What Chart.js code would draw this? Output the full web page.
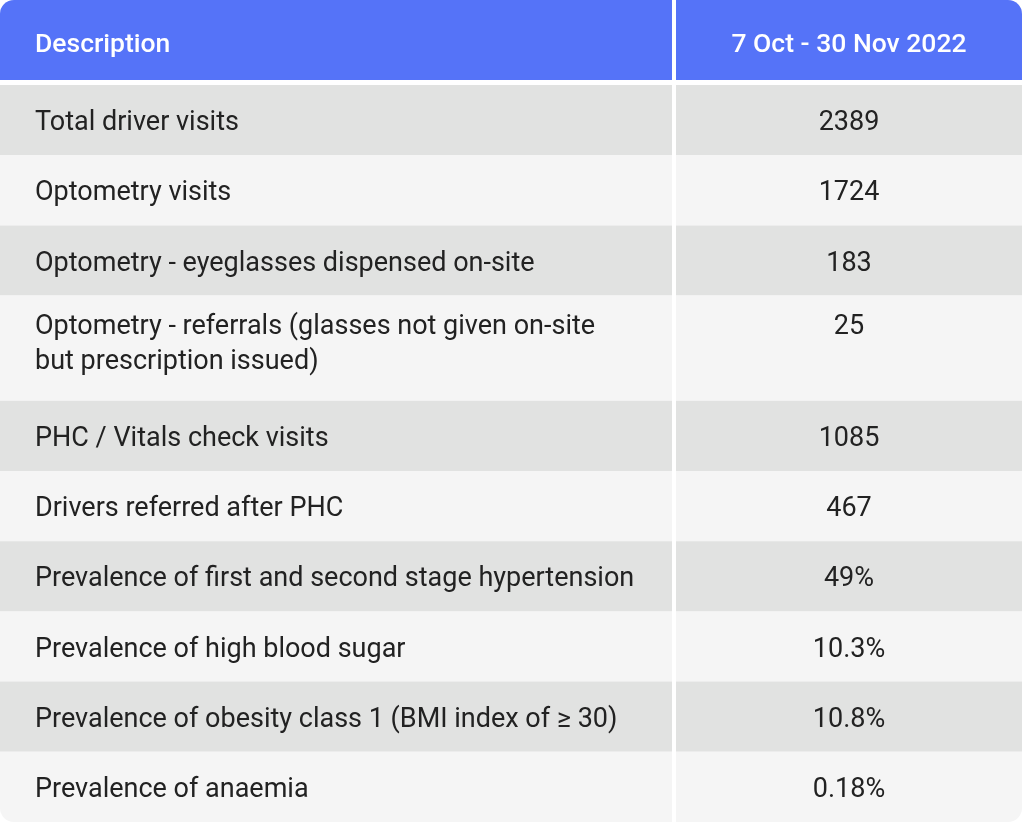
<!DOCTYPE html>
<html>
<head>
<meta charset="utf-8">
<script src="https://cdn.jsdelivr.net/npm/chart.js@4/dist/chart.umd.min.js"></script>
<style>
  html, body { margin: 0; padding: 0; background: #ffffff; }
  #tableChart { display: block; }
</style>
</head>
<body>
<canvas id="tableChart" width="1024" height="826"></canvas>
<script>
// Table data
const headers = ['Description', '7 Oct - 30 Nov 2022'];
const descriptions = [
    ['Total driver visits'],
    ['Optometry visits'],
    ['Optometry - eyeglasses dispensed on-site'],
    ['Optometry - referrals (glasses not given on-site', 'but prescription issued)'],
    ['PHC / Vitals check visits'],
    ['Drivers referred after PHC'],
    ['Prevalence of first and second stage hypertension'],
    ['Prevalence of high blood sugar'],
    ['Prevalence of obesity class 1 (BMI index of \u2265 30)'],
    ['Prevalence of anaemia']
];
const values = ['2389', '1724', '183', '25', '1085', '467', '49%', '10.3%', '10.8%', '0.18%'];

// Look and layout
const headerColor = '#5573f8';
const rowColors = ['#e1e2e1', '#f5f5f5'];
const textColor = '#222222';
const fontFamily = 'Roboto, "Noto Sans", sans-serif';
const fontSize = 27;
const headerFontSize = 26.5;

const headerHeight = 80;
const headerGap = 5;
const lineHeight = 35;
const rowPadding = 17.6;
const columnEdges = [[0, 672], [676, 1022]];
const textIndent = 35;
const cornerRadius = 14;

// build row bounds (in y scale units) from the number of text lines
const getRowBounds = function (rows) {
    let bounds = [];
    let top = headerHeight + headerGap;
    for (var i = 0; i < rows.length; i++) {
        let h = rowPadding * 2 + rows[i].length * lineHeight;
        bounds.push({top: top, bottom: top + h, lines: rows[i].length});
        top += h;
    }
    return bounds
};

const rowBounds = getRowBounds(descriptions);

function roundedCell(ctx, x0, y0, x1, y1, radii) {
    ctx.beginPath();
    ctx.roundRect(x0, y0, x1 - x0, y1 - y0, radii);
    ctx.fill();
}

const tablePlugin = {
    id: 'tableCells',
    afterDraw(chart) {
        const ctx = chart.ctx;
        const xs = chart.scales.x;
        const ys = chart.scales.y;
        const px = v => xs.getPixelForValue(v);
        const py = v => ys.getPixelForValue(v);
        const capHeight = fontSize * 0.711;
        const headCap = headerFontSize * 0.711;

        ctx.save();
        // header cells
        ctx.fillStyle = headerColor;
        columnEdges.forEach((edge, c) => {
            const radii = c === 0 ? [cornerRadius, 0, 0, 0] : [0, cornerRadius, 0, 0];
            roundedCell(ctx, px(edge[0]), py(0), px(edge[1]), py(headerHeight), radii);
        });
        ctx.fillStyle = '#ffffff';
        ctx.font = '500 ' + headerFontSize + 'px ' + fontFamily;
        ctx.textBaseline = 'alphabetic';
        const headBase = py(headerHeight / 2) + headCap / 2 + 3;
        ctx.textAlign = 'left';
        ctx.fillText(headers[0], px(columnEdges[0][0] + textIndent), headBase);
        ctx.textAlign = 'center';
        ctx.fillText(headers[1], px((columnEdges[1][0] + columnEdges[1][1]) / 2), headBase);

        // body cells
        const last = rowBounds.length - 1;
        rowBounds.forEach((row, r) => {
            ctx.fillStyle = rowColors[r % 2];
            columnEdges.forEach((edge, c) => {
                let radii = 0;
                if (r === last) {
                    radii = c === 0 ? [0, 0, 0, cornerRadius] : [0, 0, cornerRadius, 0];
                }
                roundedCell(ctx, px(edge[0]), py(row.top), px(edge[1]), py(row.bottom), radii);
            });

            // text lines, block centred in the row (multi-line rows sit a bit higher)
            const blockTop = row.top + (row.bottom - row.top - row.lines * lineHeight) / 2 - (row.lines - 1) * 6.5;
            ctx.fillStyle = textColor;
            ctx.font = '400 ' + fontSize + 'px ' + fontFamily;
            descriptions[r].forEach((line, l) => {
                const base = py(blockTop + l * lineHeight + lineHeight / 2) + capHeight / 2 + 0.5;
                ctx.textAlign = 'left';
                ctx.fillText(line, px(columnEdges[0][0] + textIndent), base);
                if (l === 0) {
                    ctx.textAlign = 'center';
                    ctx.fillText(values[r], px((columnEdges[1][0] + columnEdges[1][1]) / 2), base);
                }
            });
        });
        ctx.restore();
    }
};

const tableChart = new Chart(document.getElementById('tableChart'), {
    type: 'scatter',
    data: {datasets: []},
    options: {
        responsive: false,
        animation: false,
        layout: {padding: 0},
        scales: {
            x: {type: 'linear', min: 0, max: 1024, display: false},
            y: {type: 'linear', min: 0, max: 826, reverse: true, display: false}
        },
        plugins: {
            legend: {display: false},
            tooltip: {enabled: false}
        }
    },
    plugins: [tablePlugin]
});
</script>
</body>
</html>
